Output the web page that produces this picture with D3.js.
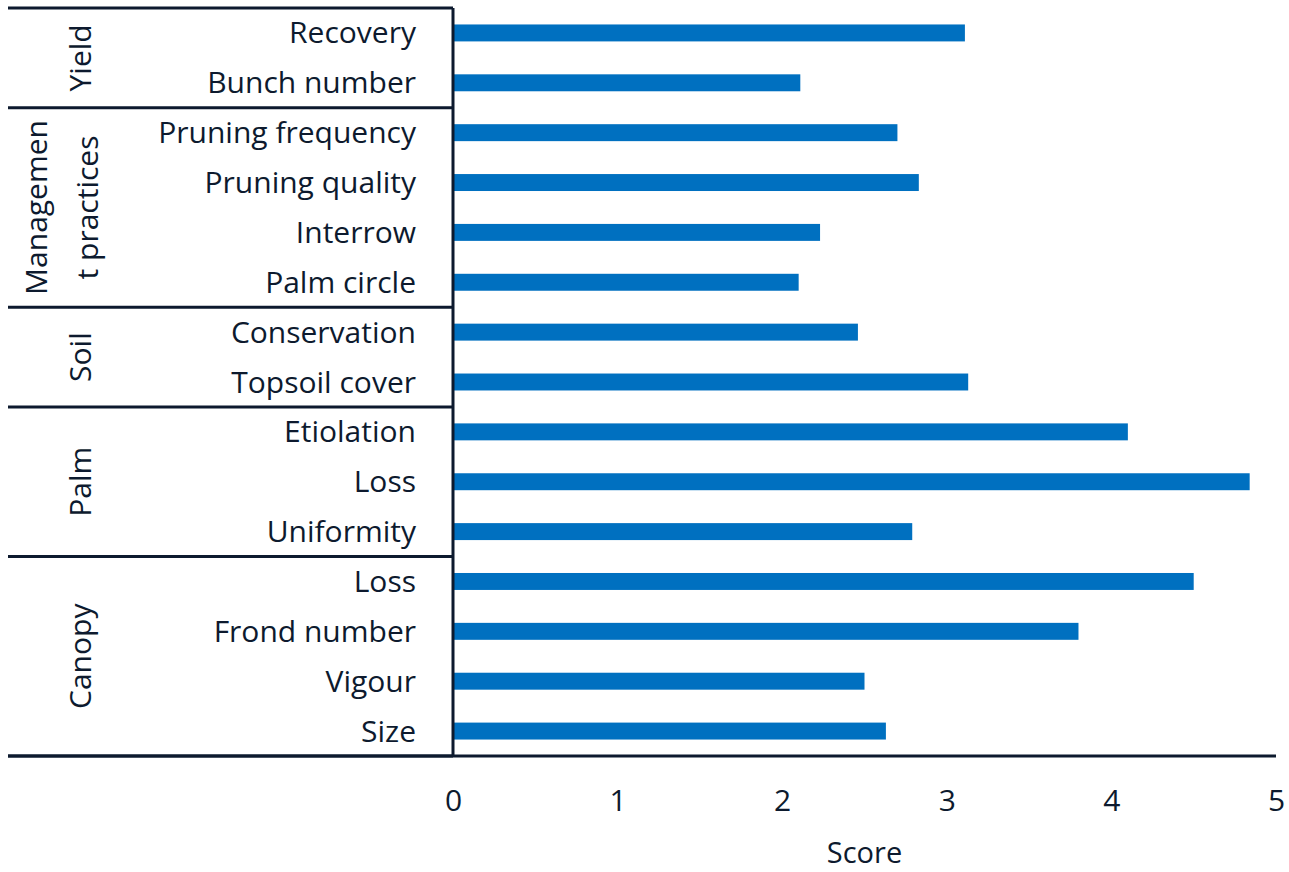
<!DOCTYPE html>
<html lang="en">
<head>
    <meta charset="UTF-8">
    <title>Scores</title>
    <script src="https://cdn.jsdelivr.net/npm/d3@7"></script>
    <style>
        html, body {
            margin: 0;
            padding: 0;
            width: 100%;
            height: 100%;
            overflow: hidden;
            background: #fff;
        }
        text {
            font-family: "Open Sans", "Noto Sans", sans-serif;
            fill: #0d1a2e;
        }
    </style>
</head>
<body>
</body>
<script>
    // categories top to bottom
    let categories = ['Recovery', 'Bunch number', 'Pruning frequency', 'Pruning quality', 'Interrow',
        'Palm circle', 'Conservation', 'Topsoil cover', 'Etiolation', 'Loss', 'Uniformity',
        'Loss', 'Frond number', 'Vigour', 'Size'];
    let scores = [3.11, 2.11, 2.70, 2.83, 2.23, 2.10, 2.46, 3.13, 4.10, 4.84, 2.79, 4.50, 3.80, 2.50, 2.63];
    let groups = [['Yield'], ['Managemen', 't practices'], ['Soil'], ['Palm'], ['Canopy']];
    let groupSizes = [2, 4, 2, 3, 4];
    let xTicks = [0, 1, 2, 3, 4, 5];

    let width = 1289, height = 872;
    let plotLeft = 453, plotRight = 1276, plotTop = 8, plotBottom = 756;
    let ink = '#0d1a2e';
    let fontSize = '30px';

    let svg = d3.select('body').append('svg')
        .attr('width', width)
        .attr('height', height);

    let x = d3.scaleLinear().domain([0, 5]).range([plotLeft, plotRight]);
    let y = d3.scaleBand().domain(d3.range(categories.length)).range([plotTop, plotBottom]).paddingInner(0.66).paddingOuter(0.33);
    let row = d3.scaleBand().domain(d3.range(categories.length)).range([plotTop, plotBottom]);

    // bars
    svg.append('g').selectAll('rect')
        .data(scores)
        .enter().append('rect')
        .attr('x', x(0))
        .attr('y', (d, i) => y(i))
        .attr('width', d => x(d) - x(0))
        .attr('height', y.bandwidth())
        .attr('fill', '#0070c0');

    // category labels
    svg.append('g').selectAll('text')
        .data(categories)
        .enter().append('text')
        .attr('x', 416)
        .attr('y', (d, i) => row(i) + row.bandwidth() / 2)
        .attr('dy', '0.35em')
        .attr('text-anchor', 'end')
        .style('font-size', fontSize)
        .text(d => d);

    // group separators and labels
    let starts = [0];
    groupSizes.forEach((n, i) => starts.push(starts[i] + n));
    let rowEdge = k => k === categories.length ? plotBottom : row(k);

    svg.append('g').selectAll('line')
        .data(starts)
        .enter().append('line')
        .attr('x1', 8)
        .attr('x2', plotLeft)
        .attr('y1', d => rowEdge(d))
        .attr('y2', d => rowEdge(d))
        .attr('stroke', ink)
        .attr('stroke-width', 3);

    let gl = svg.append('g').selectAll('text')
        .data(groups)
        .enter().append('text')
        .attr('transform', (d, i) => {
            let mid = (rowEdge(starts[i]) + rowEdge(starts[i + 1])) / 2;
            let cx = d.length > 1 ? 62 : 80;
            return `translate(${cx}, ${mid}) rotate(-90)`;
        })
        .attr('text-anchor', 'middle')
        .style('font-size', fontSize);

    gl.selectAll('tspan')
        .data(d => d)
        .enter().append('tspan')
        .attr('x', 0)
        .attr('y', (d, i, n) => (i - (n.length - 1) / 2) * 51)
        .attr('dy', '0.35em')
        .text(d => d);

    // axis lines
    svg.append('line')
        .attr('x1', plotLeft).attr('x2', plotLeft)
        .attr('y1', plotTop).attr('y2', plotBottom)
        .attr('stroke', ink).attr('stroke-width', 3);

    svg.append('line')
        .attr('x1', 8).attr('x2', plotRight)
        .attr('y1', plotBottom).attr('y2', plotBottom)
        .attr('stroke', ink).attr('stroke-width', 3);

    // x tick labels
    let xAxis = svg.append('g')
        .attr('transform', `translate(0, ${plotBottom})`)
        .call(d3.axisBottom(x).tickValues(xTicks).tickSize(0).tickPadding(34).tickFormat(d3.format('d')));
    xAxis.select('.domain').remove();
    xAxis.selectAll('text')
        .style('font-size', fontSize)
        .style('font-family', '"Open Sans", sans-serif')
        .attr('fill', ink);

    svg.append('text')
        .attr('x', (plotLeft + plotRight) / 2)
        .attr('y', 853)
        .attr('dy', '0.35em')
        .attr('text-anchor', 'middle')
        .style('font-size', '29px')
        .text('Score');
</script>
</html>
